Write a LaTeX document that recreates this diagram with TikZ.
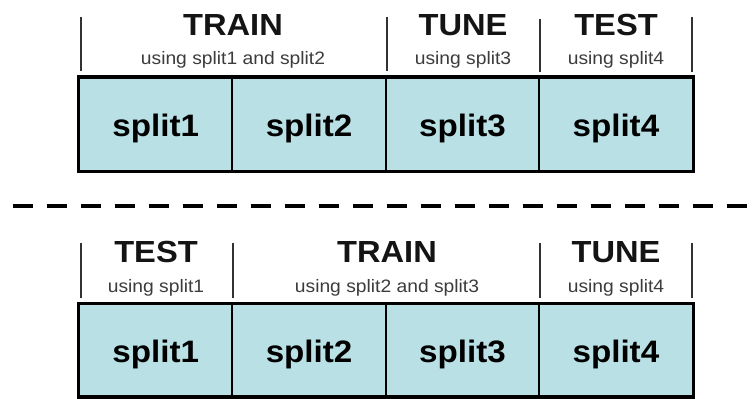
\documentclass[tikz,border=0pt]{standalone}
\usepackage{fontspec}
\setmainfont{Liberation Sans}[FakeStretch=1.07]
\definecolor{cellfill}{RGB}{185,224,228}
\definecolor{subgray}{RGB}{60,60,60}
\definecolor{tickgray}{RGB}{50,50,50}
\begin{document}
\begin{tikzpicture}[x=1pt,y=-1pt,
  cell/.style={draw=black,line width=2pt,fill=cellfill,minimum width=153.4pt,
    inner sep=0pt,font=\fontsize{31}{31}\selectfont\bfseries,text height=25pt,text depth=0pt},
  toprow/.style={cell,minimum height=93pt},
  botrow/.style={cell,minimum height=92pt},
  ttl/.style={anchor=base,inner sep=0pt,font=\fontsize{30.5}{30.5}\selectfont\bfseries,text=black!92},
  sub/.style={anchor=base,inner sep=0pt,font=\fontsize{18}{18}\selectfont,text=subgray},
  tick/.style={draw=tickgray,line width=1.4pt},
  outer/.style={draw=black,line width=3pt}
]
\useasboundingbox (0,0) rectangle (753,399);
\fill[white] (0,0) rectangle (753,399);

% ---- top panel ----
\node[toprow] (a1) at (155.7,124) {split1};
\node[toprow] (a2) at (309.1,124) {split2};
\node[toprow] (a3) at (462.5,124) {split3};
\node[toprow] (a4) at (615.9,124) {split4};
\draw[outer] (a1.north west) rectangle (a4.south east);

\node[ttl] (at1) at (233,35) {TRAIN};
\node[sub] (as1) at (233,64) {using split1 and split2};
\node[ttl] (at2) at (463,35) {TUNE};
\node[sub] (as2) at (463,64) {using split3};
\node[ttl] (at3) at (616,35) {TEST};
\node[sub] (as3) at (616,64) {using split4};

\coordinate (ak1t) at (81,17);  \coordinate (ak1b) at (81,71);
\coordinate (ak2t) at (387,17); \coordinate (ak2b) at (387,71);
\coordinate (ak3t) at (540,19); \coordinate (ak3b) at (540,72);
\coordinate (ak4t) at (692,17); \coordinate (ak4b) at (692,72);
\draw[tick] (ak1t) -- (ak1b);
\draw[tick] (ak2t) -- (ak2b);
\draw[tick] (ak3t) -- (ak3b);
\draw[tick] (ak4t) -- (ak4b);

% ---- dashed separator ----
\coordinate (dl) at (12.7,206);
\coordinate (dr) at (753,206);
\draw[black,line width=4.5pt,dash pattern=on 20pt off 14pt] (dl) -- (dr);

% ---- bottom panel ----
\node[botrow] (b1) at (155.7,350) {split1};
\node[botrow] (b2) at (309.1,350) {split2};
\node[botrow] (b3) at (462.5,350) {split3};
\node[botrow] (b4) at (615.9,350) {split4};
\draw[outer] (b1.north west) rectangle (b4.south east);

\node[ttl] (bt1) at (156,262) {TEST};
\node[sub] (bs1) at (156,292) {using split1};
\node[ttl] (bt2) at (387,262) {TRAIN};
\node[sub] (bs2) at (387,292) {using split2 and split3};
\node[ttl] (bt3) at (616,262) {TUNE};
\node[sub] (bs3) at (616,292) {using split4};

\coordinate (bk1t) at (81,243);  \coordinate (bk1b) at (81,298);
\coordinate (bk2t) at (233,243); \coordinate (bk2b) at (233,298);
\coordinate (bk3t) at (540,243); \coordinate (bk3b) at (540,298);
\coordinate (bk4t) at (692,243); \coordinate (bk4b) at (692,298);
\draw[tick] (bk1t) -- (bk1b);
\draw[tick] (bk2t) -- (bk2b);
\draw[tick] (bk3t) -- (bk3b);
\draw[tick] (bk4t) -- (bk4b);
\end{tikzpicture}
\end{document}
